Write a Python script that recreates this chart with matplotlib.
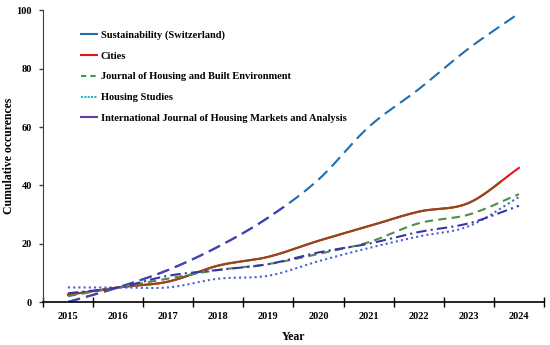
import numpy as np
import matplotlib
matplotlib.use('Agg')
import matplotlib.pyplot as plt
from matplotlib.lines import Line2D

# Datos
years = ['2015', '2016', '2017', '2018', '2019', '2020', '2021', '2022', '2023', '2024']
sustainability = [0, 5, 11, 19, 29, 42, 60, 73, 87, 99]
cities = [2.5, 5, 7, 12.5, 15.5, 21, 26, 31, 34, 46]
jhbe = [2, 5, 8, 11, 13, 16.5, 20.5, 27, 30, 37]
housing_studies = [5, 5, 5, 8, 9, 14, 18.5, 22.5, 26, 36]
ijhma = [3, 5, 9, 11, 13, 17, 20, 24, 27, 33]

labels = [
    'Sustainability (Switzerland)',
    'Cities',
    'Journal of Housing and Built Environment',
    'Housing Studies',
    'International Journal of Housing Markets and Analysis',
]

plt.rcParams['font.family'] = ['Liberation Serif', 'DejaVu Serif']
plt.rcParams['font.weight'] = 'bold'


def smooth(y, n=30):
    # curva suavizada (Catmull-Rom) que pasa por los puntos
    y = np.asarray(y, dtype=float)
    x = np.arange(len(y), dtype=float)
    m = np.gradient(y)
    xs, ys = [], []
    for i in range(len(y) - 1):
        t = np.linspace(0, 1, n, endpoint=False)
        h00 = 2 * t**3 - 3 * t**2 + 1
        h10 = t**3 - 2 * t**2 + t
        h01 = -2 * t**3 + 3 * t**2
        h11 = t**3 - t**2
        xs.append(x[i] + t)
        ys.append(h00 * y[i] + h10 * m[i] + h01 * y[i + 1] + h11 * m[i + 1])
    xs.append([x[-1]])
    ys.append([y[-1]])
    return np.concatenate(xs), np.concatenate(ys)


fig = plt.figure(figsize=(5.5, 3.45), dpi=100)
ax = fig.add_axes([0.078, 0.1246, 0.911, 0.845])

lw = 1.5
fs = 7.5

# Sustainability: azul, primera parte indigo
sx, sy = smooth(sustainability)
ax.plot(sx, sy, color='#1f6fb0', lw=lw, dashes=(6, 3))
cut = sx <= 4.4
ax.plot(sx[cut], sy[cut], color='#4b3fb5', lw=lw, dashes=(6, 3))

# Cities: marron con final rojo
cx, cy = smooth(cities)
ax.plot(cx, cy, color='#e8141c', lw=lw)
cut = cx <= 8.65
ax.plot(cx[cut], cy[cut], color='#8f4a1c', lw=lw)

# Journal of Housing and Built Environment
jx, jy = smooth(jhbe)
ax.plot(jx, jy, color='#4f8c4a', lw=lw, dashes=(4, 2.5))

# Housing Studies
hx, hy = smooth(housing_studies)
ax.plot(hx, hy, color='#4a62d0', lw=lw, dashes=(1, 1.5))

# International Journal of Housing Markets and Analysis
ix, iy = smooth(ijhma)
ax.plot(ix, iy, color='#3c34a8', lw=lw, dashes=(5, 2, 1, 2))

# Ejes
ax.set_xlim(-0.5, len(years) - 0.5)
ax.set_ylim(0, 100)
ax.set_xticks(np.arange(len(years) + 1) - 0.5)
ax.set_xticklabels([])
ax.set_xticks(np.arange(len(years)), minor=True)
ax.set_xticklabels(years, minor=True, fontsize=fs, fontweight='bold')
ax.tick_params(axis='x', which='major', direction='inout', length=7, width=1)
ax.tick_params(axis='x', which='minor', length=0, pad=7)
ax.set_yticks([0, 20, 40, 60, 80, 100])
ax.set_yticklabels(['0', '20', '40', '60', '80', '100'], fontsize=fs, fontweight='bold')
ax.tick_params(axis='y', direction='out', length=3, width=1, color='#3a3a5a', pad=5)

ax.spines['top'].set_visible(False)
ax.spines['right'].set_visible(False)
ax.spines['left'].set_color('#3a3a5a')
ax.spines['bottom'].set_color('black')
ax.spines['bottom'].set_linewidth(1.2)

ax.set_xlabel('Year', fontsize=8.5, fontweight='bold')
ax.xaxis.set_label_coords(0.5, -0.1)
ax.set_ylabel('Cumulative occurences', fontsize=8.5, fontweight='bold')
ax.yaxis.set_label_coords(-0.055, 0.5)

# Leyenda
handles = [
    Line2D([], [], color='#1f6fb0', lw=lw),
    Line2D([], [], color='#e8141c', lw=lw),
    Line2D([], [], color='#2ca05a', lw=lw, dashes=(2.5, 2)),
    Line2D([], [], color='#22b5d0', lw=lw, dashes=(1, 0.6)),
    Line2D([], [], color='#6a3d9a', lw=lw),
]
ax.legend(handles, labels, loc='upper left', bbox_to_anchor=(0.076, 0.932),
          frameon=False, handlelength=1.5, handletextpad=0.4,
          labelspacing=1.1, borderpad=0, borderaxespad=0,
          prop={'weight': 'bold', 'size': fs})

plt.savefig('out.png', dpi=100)
